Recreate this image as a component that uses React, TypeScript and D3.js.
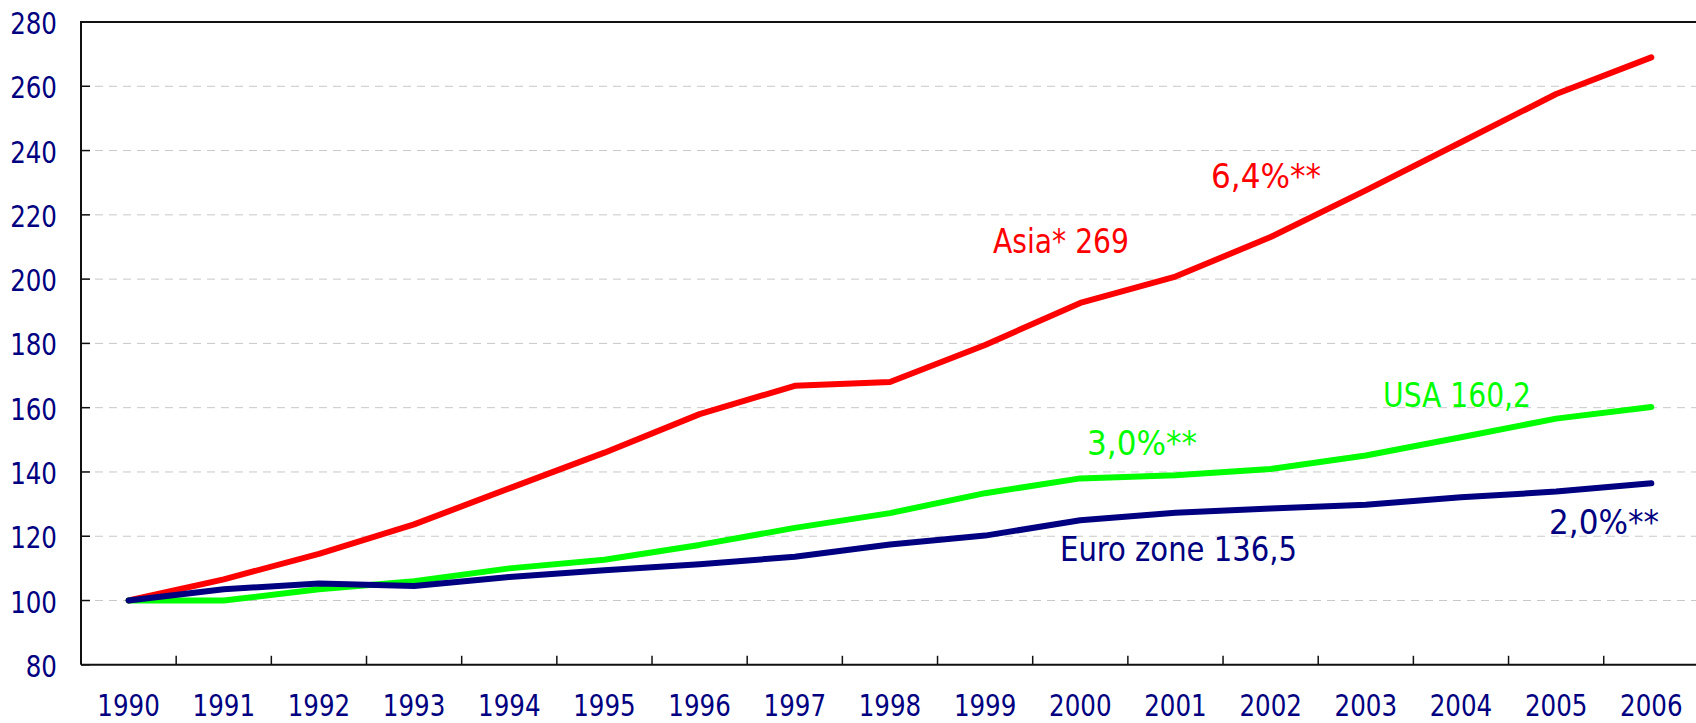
import React from "react";
import * as d3 from "d3";

const years = ["1990","1991","1992","1993","1994","1995","1996","1997","1998","1999","2000","2001","2002","2003","2004","2005","2006"];
const asia = [100, 106.6, 114.5, 123.7, 134.9, 146, 158, 166.8, 168, 179.5, 192.6, 200.8, 213.1, 227.6, 242.6, 257.6, 269];
const usa = [100, 100, 103.5, 106, 110, 112.7, 117.3, 122.6, 127.2, 133.4, 138, 139, 140.9, 145.1, 150.8, 156.6, 160.2];
const euro = [100, 103.5, 105.3, 104.5, 107.3, 109.4, 111.3, 113.6, 117.4, 120.2, 125, 127.3, 128.6, 129.8, 132.1, 133.9, 136.5];
const yTicks = [80, 100, 120, 140, 160, 180, 200, 220, 240, 260, 280];

const seriesList = [
  { name: "Asia", values: asia, color: "#ff0000" },
  { name: "USA", values: usa, color: "#00ff00" },
  { name: "Euro", values: euro, color: "#000080" },
];

const annotations = [
  { text: "Asia* 269", x: 993, y: 253, color: "#ff0000", w: 136 },
  { text: "6,4%**", x: 1211, y: 188, color: "#ff0000", w: 110 },
  { text: "USA 160,2", x: 1383, y: 407, color: "#00ff00", w: 148 },
  { text: "3,0%**", x: 1087, y: 455, color: "#00ff00", w: 110 },
  { text: "Euro zone 136,5", x: 1060, y: 561, color: "#000080", w: 237 },
  { text: "2,0%**", x: 1549, y: 534, color: "#000080", w: 110 },
];

const W = 1696, H = 723;
const L = 81, T = 22, B = 664.8, R = 81 + 17 * 95.17;
const FONT = "'DejaVu Sans Condensed', 'DejaVu Sans', sans-serif";
const SX = 0.91;

export default function App() {
  const x = d3.scaleBand<string>().domain(years).range([L, R]).padding(0);
  const bw = x.bandwidth();
  const cx = (yr: string) => (x(yr) as number) + bw / 2;
  const y = d3.scaleLinear().domain([80, 280]).range([B, T]);
  const line = d3
    .line<number>()
    .x((_, i) => cx(years[i]))
    .y((v) => y(v));

  return (
    <svg width={W} height={H} style={{ position: "absolute", left: 0, top: 0, background: "#fff" }}>
      <rect x={0} y={0} width={W} height={H} fill="#fff" />
      {yTicks.filter((t) => t > 80 && t < 280).map((t) => (
        <line key={"g" + t} x1={L} x2={R} y1={y(t)} y2={y(t)} stroke="#c8c8c8" strokeWidth={1} strokeDasharray="8,6" />
      ))}
      {yTicks.map((t) => (
        <line key={"yt" + t} x1={L} x2={L + 9} y1={y(t)} y2={y(t)} stroke="#111" strokeWidth={1.5} />
      ))}
      {years.slice(1).map((yr) => (
        <line key={"xt" + yr} x1={x(yr)} x2={x(yr)} y1={B} y2={B - 9} stroke="#111" strokeWidth={1.5} />
      ))}
      <path d={`M${L},${B} L${L},${T} L${R},${T}`} fill="none" stroke="#111" strokeWidth={2} />
      <line x1={L} x2={R} y1={B} y2={B} stroke="#111" strokeWidth={2} />
      {yTicks.map((t) => (
        <text key={"yl" + t} transform={`translate(57,${y(t) + 12}) scale(${SX},1)`} textAnchor="end" fontFamily={FONT} fontSize={30} fill="#000080">
          {t}
        </text>
      ))}
      {years.map((yr) => (
        <text key={"xl" + yr} transform={`translate(${cx(yr)},716) scale(${SX},1)`} textAnchor="middle" fontFamily={FONT} fontSize={30} fill="#000080">
          {yr}
        </text>
      ))}
      {seriesList.map((s) => (
        <path key={s.name} d={line(s.values) || ""} fill="none" stroke={s.color} strokeWidth={6} strokeLinejoin="round" strokeLinecap="round" />
      ))}
      {annotations.map((a) => (
        <text key={a.text} x={a.x} y={a.y} fontFamily={FONT} fontSize={34} fill={a.color} textLength={a.w} lengthAdjust="spacingAndGlyphs">
          {a.text}
        </text>
      ))}
    </svg>
  );
}
